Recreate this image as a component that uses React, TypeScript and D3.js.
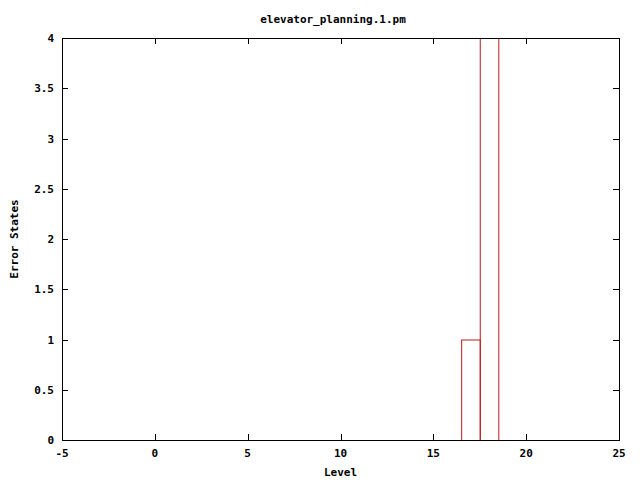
import React from "react";
import * as d3 from "d3";

const levels = [17, 18];
const errorStates = [1, 4];
const xTicks = [-5, 0, 5, 10, 15, 20, 25];
const yTicks = [0, 0.5, 1, 1.5, 2, 2.5, 3, 3.5, 4];
const title = "elevator_planning.1.pm";
const xLabel = "Level";
const yLabel = "Error States";

const W = 640;
const H = 480;
const margin = { top: 38, right: 21, bottom: 40, left: 62 };
const font = "'DejaVu Sans Mono', monospace";
const barColor = "#b81c1c";

export default function App() {
  const x = d3
    .scaleLinear()
    .domain([-5, 25])
    .range([margin.left, W - margin.right]);
  const y = d3
    .scaleLinear()
    .domain([0, 4])
    .range([H - margin.bottom, margin.top]);

  const left = x(-5);
  const right = x(25);
  const top = y(4);
  const bottom = y(0);
  const tick = 6;

  const fmt = (v: number) => String(v);

  return (
    <svg
      width={W}
      height={H}
      style={{ position: "absolute", left: 0, top: 0, background: "#fff" }}
      fontFamily={font}
      fontWeight="bold"
      fontSize={11}
    >
      <defs>
        <clipPath id="plot">
          <rect x={left} y={top} width={right - left} height={bottom - top} />
        </clipPath>
      </defs>
      <text x={W / 2 + 13} y={23} textAnchor="middle">
        {title}
      </text>

      <g clipPath="url(#plot)">
        {levels.map((lv, i) => (
          <rect
            key={lv}
            x={x(lv - 0.5) + 0.5}
            y={y(errorStates[i]) + 0.5}
            width={x(lv + 0.5) - x(lv - 0.5)}
            height={bottom - y(errorStates[i])}
            fill="none"
            stroke={barColor}
            strokeWidth={1}
          />
        ))}
      </g>

      {xTicks.map((t) => (
        <g key={"x" + t}>
          <line x1={Math.round(x(t)) + 0.5} x2={Math.round(x(t)) + 0.5} y1={bottom} y2={bottom - tick} stroke="#000" />
          <line x1={Math.round(x(t)) + 0.5} x2={Math.round(x(t)) + 0.5} y1={top} y2={top + tick} stroke="#000" />
          <text x={x(t)} y={bottom + 17} textAnchor="middle">
            {fmt(t)}
          </text>
        </g>
      ))}
      {yTicks.map((t) => (
        <g key={"y" + t}>
          <line x1={left} x2={left + tick} y1={Math.round(y(t)) + 0.5} y2={Math.round(y(t)) + 0.5} stroke="#000" />
          <line x1={right} x2={right - tick} y1={Math.round(y(t)) + 0.5} y2={Math.round(y(t)) + 0.5} stroke="#000" />
          <text x={54} y={y(t) + 4} textAnchor="end">
            {fmt(t)}
          </text>
        </g>
      ))}

      <rect
        x={Math.round(left) + 0.5}
        y={Math.round(top) + 0.5}
        width={Math.round(right) - Math.round(left)}
        height={Math.round(bottom) - Math.round(top)}
        fill="none"
        stroke="#000"
      />

      <text x={(left + right) / 2} y={476} textAnchor="middle">
        {xLabel}
      </text>
      <text
        transform={`translate(18,${(top + bottom) / 2}) rotate(-90)`}
        textAnchor="middle"
      >
        {yLabel}
      </text>
    </svg>
  );
}
